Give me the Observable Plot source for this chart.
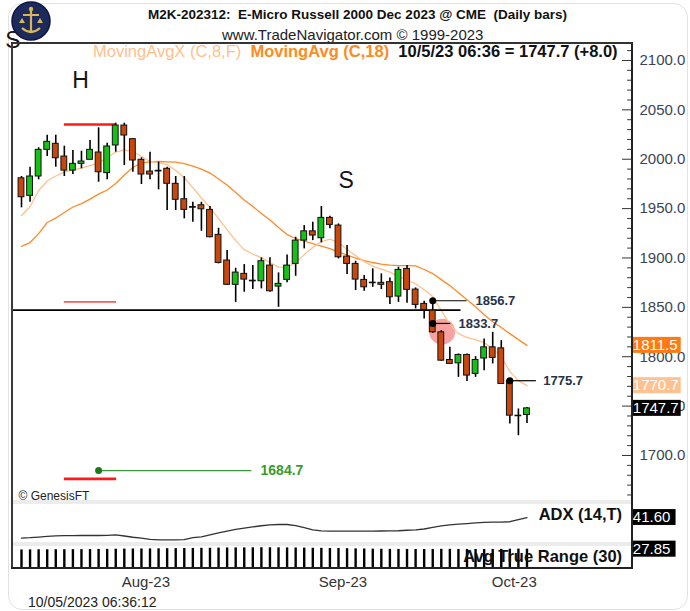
<!DOCTYPE html>
<html><head><meta charset="utf-8">
<script src="https://cdn.jsdelivr.net/npm/d3@7"></script>
<script src="https://cdn.jsdelivr.net/npm/@observablehq/plot@0.6"></script>
<style>
body{margin:0;background:#fff;font-family:"Liberation Sans",Arial,sans-serif;}
#wrap{position:relative;width:690px;height:611px;overflow:hidden;background:#fff;}
.abs{position:absolute;white-space:nowrap;}
.nar{font-family:"Liberation Sans Narrow","Liberation Sans",Arial,sans-serif;}
#wrap svg{overflow:visible;}
</style></head><body><div id="wrap">
<div class="abs" style="left:8px;top:3px;width:678px;height:605px;border:1px solid #e2e2e2;border-radius:14px;"></div>
<div class="abs nar" style="left:148px;top:6px;font-size:13.5px;font-weight:bold;color:#111;line-height:18px;">M2K-202312:&nbsp; E-Micro Russell 2000 Dec 2023 @ CME&nbsp; (Daily bars)</div>
<div class="abs nar" style="left:222px;top:26px;font-size:15px;color:#222;line-height:18px;">www.TradeNavigator.com © 1999-2023</div>
<div id="main" class="abs" style="left:0;top:42px;"></div>
<div id="adx" class="abs" style="left:0;top:504px;"></div>
<div id="atr" class="abs" style="left:0;top:546px;"></div>
<div class="abs" style="left:13px;top:500px;width:618px;height:4px;background:#ececec;"></div>
<div class="abs" style="left:13px;top:542px;width:618px;height:4px;background:#ececec;"></div>
<div class="abs" style="left:11px;top:42px;width:2px;height:527px;background:#3a3a3a;"></div>
<div class="abs" style="left:631px;top:42px;width:2px;height:527px;background:#222;"></div>
<div class="abs" style="left:11px;top:42px;width:622px;height:1.5px;background:#333;"></div>
<div class="abs" style="left:11px;top:567px;width:622px;height:2px;background:#222;"></div>
<div class="abs nar" style="left:93px;top:42px;font-size:16.5px;line-height:18px;">
<span style="color:#ffc08c;">MovingAvgX (C,8,F)</span>&nbsp;&nbsp;<span style="color:#ff8a22;font-weight:bold;">MovingAvg (C,18)</span>&nbsp;&nbsp;<span style="color:#111;font-weight:bold;">10/5/23 06:36 = 1747.7 (+8.0)</span></div>
<div class="abs" style="left:28px;top:594px;font-size:14px;color:#222;line-height:17px;">10/05/2023 06:36:12</div>
<div id="over" class="abs" style="left:0;top:0;"></div>
</div>
<script>
// ---------- data ----------
const dates = ["2023-07-13","2023-07-14","2023-07-17","2023-07-18","2023-07-19","2023-07-20","2023-07-21","2023-07-24","2023-07-25","2023-07-26","2023-07-27","2023-07-28","2023-07-31",
"2023-08-01","2023-08-02","2023-08-03","2023-08-04","2023-08-07","2023-08-08","2023-08-09","2023-08-10","2023-08-11","2023-08-14","2023-08-15","2023-08-16","2023-08-17","2023-08-18","2023-08-21","2023-08-22","2023-08-23","2023-08-24","2023-08-25","2023-08-28","2023-08-29","2023-08-30","2023-08-31",
"2023-09-01","2023-09-05","2023-09-06","2023-09-07","2023-09-08","2023-09-11","2023-09-12","2023-09-13","2023-09-14","2023-09-15","2023-09-18","2023-09-19","2023-09-20","2023-09-21","2023-09-22","2023-09-25","2023-09-26","2023-09-27","2023-09-28","2023-09-29",
"2023-10-02","2023-10-03","2023-10-04","2023-10-05"];
const open  = [1980.7,1962.9,1982.5,2009.5,2015.6,2002.7,1988.5,1995.3,1999.4,2006.8,1985.9,2013.9,2034.1,2020.3,1999.4,1987.5,1988.3,1990.3,1975.1,1959.5,1951.6,1953.4,1948.7,1923.4,1897.4,1872.8,1883.9,1877.0,1876.4,1892.3,1871.0,1877.8,1894.0,1917.6,1927.0,1920.0,1940.6,1932.8,1901.4,1894.0,1877.8,1875.0,1874.8,1875.5,1860.9,1888.9,1868.0,1853.5,1846.7,1824.7,1796.7,1793.3,1801.8,1782.6,1798.2,1809.5,1808.5,1775.7,1740.3,1741.0];
const high  = [1982.5,1991.9,2011.6,2024.3,2024.3,2013.2,2008.8,2008.1,2018.9,2031.8,2016.3,2036.5,2036.5,2021.0,2001.4,2007.1,1997.0,1991.9,1982.5,1982.5,1956.4,1956.4,1952.1,1930.1,1907.5,1889.6,1893.3,1892.3,1900.1,1900.1,1884.9,1903.1,1921.0,1932.8,1936.2,1952.1,1942.3,1934.5,1912.6,1896.7,1882.2,1889.0,1883.9,1879.8,1890.6,1892.3,1869.7,1856.2,1856.7,1826.4,1809.5,1802.8,1802.8,1800.1,1818.0,1824.7,1816.3,1775.7,1747.1,1748.7];
const low   = [1950.8,1956.4,1979.1,2002.7,1991.9,1982.5,1984.5,1990.3,1998.7,1976.7,1979.1,2007.1,1993.6,1986.8,1974.4,1979.1,1969.0,1948.0,1948.0,1939.6,1936.2,1927.0,1920.4,1894.0,1872.0,1855.0,1865.3,1868.0,1868.7,1865.3,1850.0,1874.8,1881.5,1909.2,1917.6,1915.3,1929.5,1899.0,1883.2,1867.0,1866.3,1870.3,1868.0,1852.8,1855.0,1854.1,1848.4,1838.3,1823.7,1795.3,1792.0,1779.1,1775.0,1779.1,1785.9,1792.7,1772.4,1731.9,1720.0,1732.5];
const close = [1961.5,1982.5,2009.5,2017.6,2001.0,1988.5,1995.3,1997.7,2009.5,1986.8,2012.9,2034.1,2024.0,1998.7,1984.5,1984.5,1987.6,1975.1,1958.9,1948.7,1950.9,1949.3,1921.0,1895.0,1872.8,1885.2,1878.1,1876.3,1896.7,1866.3,1873.8,1892.3,1917.6,1927.0,1922.7,1940.6,1933.5,1900.7,1894.0,1878.1,1870.3,1874.4,1872.8,1860.2,1887.9,1867.7,1852.5,1847.4,1824.7,1796.0,1792.7,1801.8,1780.9,1796.7,1809.5,1798.8,1772.4,1740.3,1739.7,1747.7];
const movingAvgX8 = [1943.0,1952.1,1968.3,1977.9,1983.0,1987.0,1989.1,1991.1,1993.6,1996.2,2001.7,2007.3,2009.5,2007.8,2002.7,1997.7,1996.2,1994.6,1988.5,1981.5,1971.3,1960.7,1951.1,1939.9,1928.8,1917.6,1908.5,1904.0,1900.4,1895.3,1890.8,1890.3,1895.3,1903.4,1910.5,1916.6,1919.1,1915.6,1908.5,1902.4,1896.3,1891.8,1888.7,1885.7,1881.2,1878.1,1873.6,1868.0,1860.9,1846.7,1832.5,1823.4,1819.4,1817.3,1814.3,1808.2,1800.1,1784.9,1775.8,1770.7];
const movingAvg18 = [1911.7,1915.6,1924.7,1935.9,1940.4,1946.0,1951.6,1955.1,1959.6,1964.7,1968.8,1975.4,1984.0,1991.6,1996.2,1997.4,1997.7,1997.4,1997.0,1995.6,1993.1,1989.9,1986.0,1980.0,1973.9,1966.3,1958.7,1952.1,1945.0,1938.4,1930.8,1923.7,1919.7,1917.1,1914.6,1912.1,1909.5,1906.0,1903.0,1899.9,1897.4,1895.4,1893.8,1892.8,1892.3,1892.3,1892.0,1888.3,1884.2,1878.1,1872.0,1864.9,1857.8,1850.7,1842.6,1835.5,1829.5,1823.4,1817.3,1811.5];
const adx14 = [20.0,20.5,21.2,21.8,22.4,22.6,22.7,22.8,22.8,22.8,22.9,23.4,22.3,21.0,20.0,18.8,18.3,18.3,18.3,18.4,20.5,21.3,23.5,25.5,27.5,29.2,30.5,31.8,33.0,34.0,34.3,34.3,33.2,31.0,28.8,27.6,27.3,27.3,27.3,27.3,27.4,27.4,27.5,27.6,27.8,28.3,28.7,29.6,31.2,32.8,33.9,34.6,35.2,35.9,36.5,36.7,36.8,37.2,39.5,41.6];
const atr30 = [26.8,26.9,27.0,27.0,27.1,27.1,27.2,27.2,27.3,27.5,27.6,27.8,28.0,28.1,28.1,28.2,28.3,28.5,28.6,28.8,28.9,29.0,29.1,29.3,29.5,29.6,29.6,29.7,29.8,29.8,29.7,29.6,29.5,29.3,29.1,29.0,28.8,28.7,28.5,28.3,28.1,27.9,27.7,27.6,27.5,27.5,27.4,27.4,27.5,27.6,27.6,27.5,27.5,27.4,27.4,27.5,27.6,27.8,27.9,27.85];
const priceTicks = [1700,1750,1800,1850,1900,1950,2000,2050,2100];
const monthLabels = ["Aug-23","Sep-23","Oct-23"];
const monthFirstDates = ["2023-08-01","2023-09-01","2023-10-02"];
// annotations: price levels anchored on bar dates (len / gap in bars)
const pivotLabels = [{d:"2023-09-20",p:1856.7,len:4.0,gap:5.0},{d:"2023-09-20",p:1833.7,len:2.1,gap:3.0},{d:"2023-10-03",p:1775.7,len:3.1,gap:3.9}];
const necklineLevel = 1847.2, necklineEnd = "2023-09-22", necklineOver = 1.3;
const headLevels = [{p:2035.2,w:2.6,c:"#ff1a1a"},{p:1855.5,w:1.6,c:"#ff5a5a"},{p:1676.3,w:2.6,c:"#ff1a1a"}];
const headFrom = "2023-07-20", headTo = "2023-07-28";
const target = {p:1684.7, from:"2023-07-26", to:"2023-08-21"};
const highlight = {d:"2023-09-21", p:1825.4};
const patternLetters = [{d:"2023-07-24",p:2079.5,t:"H",off:-0.1},{d:"2023-09-05",p:1978.4,t:"S",off:0.9},{d:"2023-07-13",p:2120.2,t:"S",off:-1.0}];

// ---------- build ----------
const ix = d => dates.indexOf(d);
const candles = dates.map((d,i)=>({i,o:open[i],h:high[i],l:low[i],c:close[i]}));
const XMIN=-1.05, XMAX=71.2;
const GREEN="#16c016", ORANGE="#c8470c";
const font = "Liberation Sans, Arial, sans-serif";
const common = {width:690, marginLeft:12, marginRight:59, x:{domain:[XMIN,XMAX], axis:null}, color:{type:"identity"}};
const last = dates.length-1;
const minorTicks = d3.range(1660,2120,10).filter(v=>v%50!==0);

const badges = [
  {v:movingAvg18[last], bg:"#ff7a12"},
  {v:movingAvgX8[last], bg:"#ffc190"},
  {v:close[last], bg:"#000"}
];

const main = Plot.plot({
  ...common, height:458, marginTop:0, marginBottom:0,
  y:{domain:[1654.4,2118.2], axis:null},
  style:{fontFamily:font, fontSize:"15px", background:"transparent"},
  marks:[
    Plot.text(patternLetters.filter(d=>d.p>2100),{x:d=>ix(d.d)+d.off,y:"p",text:"t",fontSize:23,fill:"#151515"}),
    Plot.ruleY(minorTicks,{x1:XMAX-0.45,x2:XMAX,stroke:"#333"}),
    Plot.ruleY(priceTicks,{x1:XMAX-1.05,x2:XMAX,stroke:"#333"}),
    Plot.axisY({ticks:priceTicks, anchor:"right", tickSize:0, tickPadding:8, tickFormat:d=>d.toFixed(1), color:"#3a4556", label:null, fontSize:15}),
    Plot.dot([highlight],{x:d=>ix(d.d)+0.1,y:"p",r:13,fill:"#f25555",fillOpacity:0.55}),
    Plot.line(candles,{x:"i",y:d=>movingAvg18[d.i],stroke:"#ff8a2a",strokeWidth:1.3}),
    Plot.line(candles,{x:"i",y:d=>movingAvgX8[d.i],stroke:"#ffc28e",strokeWidth:1.3}),
    Plot.ruleY([necklineLevel],{x1:XMIN,x2:ix(necklineEnd)+necklineOver,stroke:"#000",strokeWidth:1.8}),
    Plot.ruleY(headLevels,{y:"p",x1:ix(headFrom),x2:ix(headTo)+0.1,stroke:"c",strokeWidth:"w"}),
    Plot.ruleY([target],{y:"p",x1:d=>ix(d.from),x2:d=>ix(d.to)-0.1,stroke:"#3a9a3a",strokeWidth:1.4}),
    Plot.dot([target],{x:d=>ix(d.from),y:"p",r:3.5,fill:"#1a7a1a"}),
    Plot.text([target],{x:d=>ix(d.to)+0.9,y:"p",text:d=>d.p.toFixed(1),textAnchor:"start",fill:"#3a9a2a",fontWeight:"bold",fontSize:14}),
    Plot.ruleX(candles,{x:"i",y1:"l",y2:"h",stroke:"#000",strokeWidth:1.6}),
    Plot.rect(candles,{x1:d=>d.i-0.34,x2:d=>d.i+0.34,y1:"o",y2:"c",fill:d=>Math.abs(d.c-d.o)<1?"#000":(d.c>=d.o?GREEN:ORANGE),stroke:"#111",strokeWidth:1}),
    Plot.ruleY(pivotLabels,{y:"p",x1:d=>ix(d.d),x2:d=>ix(d.d)+d.len,stroke:"#000",strokeWidth:1.2}),
    Plot.dot(pivotLabels,{x:d=>ix(d.d),y:"p",r:3.5,fill:"#000"}),
    Plot.text(pivotLabels,{x:d=>ix(d.d)+d.gap,y:"p",text:d=>d.p.toFixed(1),textAnchor:"start",fill:"#26324a",fontWeight:"bold",fontSize:13}),
    Plot.text(patternLetters.filter(d=>d.p<=2100),{x:d=>ix(d.d)+d.off,y:"p",text:"t",fontSize:23,fill:"#151515"}),
    Plot.text(["© GenesisFT"],{frameAnchor:"bottom-left",dx:6,dy:-1,fontSize:12,fill:"#222"}),
    Plot.rect(badges,{x1:XMAX+0.1,x2:XMAX+5.8,y1:d=>d.v-8.1,y2:d=>d.v+8.1,fill:"bg"}),
    Plot.text(badges,{x:XMAX+0.15,y:"v",text:d=>d.v.toFixed(1),textAnchor:"start",fill:"#fff",fontSize:15})
  ]
});
document.getElementById("main").append(main);

const adxLast = adx14[last];
const adxPlot = Plot.plot({
  ...common, height:38, marginTop:0, marginBottom:0,
  y:{domain:[15.5,55.2], axis:null},
  style:{fontFamily:font, fontSize:"15px", background:"transparent"},
  marks:[
    Plot.line(candles,{x:"i",y:d=>adx14[d.i],stroke:"#333",strokeWidth:1.3}),
    Plot.text(["ADX (14,T)"],{x:XMAX-1.1,y:44.8,textAnchor:"end",fontWeight:"bold",fontSize:16.5,fill:"#111"}),
    Plot.rect([adxLast],{x1:XMAX+0.1,x2:XMAX+5.2,y1:d=>d-8.3,y2:d=>d+8.3,fill:"#000"}),
    Plot.text([adxLast],{x:XMAX+0.15,y:d=>d,text:d=>d.toFixed(2),textAnchor:"start",fill:"#fff",fontSize:15})
  ]
});
document.getElementById("adx").append(adxPlot);

const atrLast = atr30[last];
const atrPlot = Plot.plot({
  ...common, height:48, marginTop:0, marginBottom:25,
  y:{domain:[0,31.5], axis:null},
  style:{fontFamily:font, fontSize:"15px", background:"transparent"},
  marks:[
    Plot.ruleX(candles,{x:"i",y1:0,y2:d=>atr30[d.i],stroke:"#000",strokeWidth:2.4}),
    Plot.text(["Avg True Range (30)"],{x:XMAX-1.1,y:17.5,textAnchor:"end",fontWeight:"bold",fontSize:16.5,fill:"#111"}),
    Plot.rect([atrLast],{x1:XMAX+0.1,x2:XMAX+5.2,y1:d=>d-11,y2:d=>d+11,fill:"#000"}),
    Plot.text([atrLast],{x:XMAX+0.15,y:d=>d,text:d=>d.toFixed(2),textAnchor:"start",fill:"#fff",fontSize:15}),
    Plot.axisX({ticks:monthFirstDates.map(ix), tickSize:0, tickPadding:7, dx:13, tickFormat:(d,k)=>monthLabels[k], label:null, fontSize:15, color:"#333"})
  ]
});
document.getElementById("atr").append(atrPlot);

// logo (decoration, drawn above the panel corner)
document.getElementById("over").innerHTML = '<svg style="position:absolute;left:10px;top:1px;" width="42" height="42" viewBox="0 0 42 42">'+
 '<circle cx="21" cy="20" r="19" fill="#1c2a5c" stroke="#0c1540" stroke-width="1.5"/>'+
 '<path d="M21 7 L21 30 M13 14 L29 14 M12 27 Q21 35 30 27" stroke="#d7b75a" stroke-width="2.2" fill="none"/>'+
 '<circle cx="21" cy="8" r="2.2" fill="#d7b75a"/>'+
 '<path d="M9 22 L15 22 L12 17 Z M27 22 L33 22 L30 17 Z" fill="#d7b75a"/></svg>';
</script>
</body></html>
